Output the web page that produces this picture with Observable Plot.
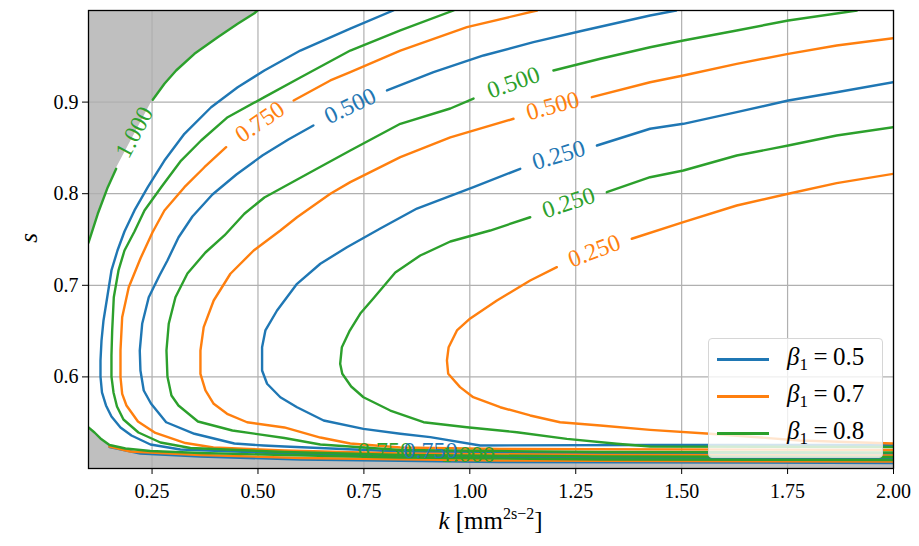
<!DOCTYPE html>
<html><head><meta charset="utf-8">
<script src="https://cdn.jsdelivr.net/npm/d3@7"></script>
<script src="https://cdn.jsdelivr.net/npm/@observablehq/plot@0.6"></script>
<style>
body{margin:0;background:#fff;}
#wrap{position:relative;width:919px;height:546px;font-family:"Liberation Serif",serif;color:#000;}
#wrap svg{position:absolute;left:0;top:0;}
#wrap svg text{font-family:"Liberation Serif",serif !important;}
#legend{position:absolute;left:708px;top:338px;width:175px;height:120px;box-sizing:border-box;border:1px solid #d6d6d6;border-radius:4px;background:rgba(255,255,255,0.8);}
.row{position:absolute;left:0;height:30px;display:flex;align-items:center;}
.sw{display:inline-block;width:52px;height:3px;margin-left:8px;margin-right:18px;}
.lab{font-size:25px;white-space:nowrap;}
.lab i{font-style:italic;}
.lab sub{font-size:17px;vertical-align:-5px;}
.lab .eq{margin:0 0.22em;}
#xlab{position:absolute;left:88px;width:805px;top:505px;text-align:center;font-size:25px;}
#xlab sup{font-size:16px;vertical-align:10px;}
#ylab{position:absolute;left:24px;top:224px;font-size:25px;font-style:italic;transform:rotate(-90deg);}
</style></head><body><div id="wrap"></div><script>
// ---- axes ----
const kDomain = [0.1, 2.0];
const sDomain = [0.5, 1.0];
const kTicks = [0.25, 0.5, 0.75, 1.0, 1.25, 1.5, 1.75, 2.0];
const sTicks = [0.6, 0.7, 0.8, 0.9];
const betas = [0.5, 0.7, 0.8];
const levels = [0.25, 0.5, 0.75, 1.0];

// ---- contour lines [k, s]; null = gap where the inline label sits ----
// beta = 0.5
const b25 = [[2.0,0.5257],[1.4255,0.5257],[1.0245,0.5251],[0.9066,0.5342],[0.836,0.5379],[0.749,0.5433],[0.655,0.5524],[0.5922,0.5669],[0.5528,0.5778],[0.5215,0.5925],[0.5097,0.607],[0.5097,0.6324],[0.5175,0.6507],[0.545,0.6725],[0.5922,0.7016],[0.6472,0.7235],[0.71,0.7416],[0.7887,0.762],[0.8752,0.7838],[1.0087,0.8071],[1.1189,0.8272],null,[1.3,0.8526],[1.4255,0.8709],[1.504,0.8763],[1.63,0.889],[1.7516,0.9017],[1.8658,0.9108],[2.0,0.9217]];
const b50 = [[2.0,0.5158],[1.308,0.5164],[0.836,0.5186],[0.5623,0.524],[0.5127,0.5251],[0.4443,0.5273],[0.35,0.5379],[0.2833,0.5505],[0.2474,0.571],[0.2304,0.5852],[0.2226,0.607],[0.221,0.6288],[0.2267,0.658],[0.2422,0.687],[0.2675,0.7107],[0.2863,0.7271],[0.3123,0.7522],[0.3453,0.7751],[0.3925,0.7991],[0.4491,0.821],[0.5104,0.8417],[0.5717,0.8592],[0.6307,0.8745],null,[0.8045,0.9127],[0.9144,0.9327],[1.0323,0.9509],[1.1502,0.9654],[1.2682,0.9782],[1.4255,0.9945],[1.4868,1.0]];
const b75 = [[2.0,0.5109],[1.308,0.5115],[0.836,0.5131],[0.5623,0.5164],[0.317,0.5207],[0.2462,0.5262],[0.2014,0.536],[0.1755,0.5448],[0.1542,0.5568],[0.1413,0.5688],[0.1318,0.583],[0.1283,0.6004],[0.1283,0.6179],[0.1307,0.6397],[0.1354,0.6616],[0.1441,0.6867],[0.1542,0.7162],[0.1684,0.738],[0.1849,0.7587],[0.2085,0.7817],[0.2399,0.8071],[0.2792,0.8362],[0.3264,0.8654],[0.3894,0.8944],[0.4521,0.9163],[0.5151,0.9345],[0.6,0.9563],[0.7179,0.9803],[0.8193,1.0]];
const b100 = [[0.1495,0.5235],[0.2226,0.5164],[0.3642,0.5131],[0.6,0.5098],[1.0717,0.5071],[2.0,0.506]];
// beta = 0.7
const o25 = [[2.0,0.5273],[1.779,0.5306],[1.567,0.5379],[1.4255,0.5422],[1.308,0.5469],[1.213,0.5505],[1.1425,0.5579],[1.0717,0.5669],[1.008,0.5778],[0.977,0.5888],[0.949,0.6034],[0.946,0.6179],[0.95,0.6324],[0.9696,0.6507],[1.001,0.6638],[1.064,0.6834],[1.1425,0.7052],[1.2054,0.7198],null,[1.3823,0.7508],[1.504,0.7689],[1.63,0.7871],[1.7516,0.7999],[1.8658,0.8115],[2.0,0.8217]];
const o50 = [[2.0,0.5202],[1.0717,0.5213],[0.836,0.5229],[0.7179,0.5273],[0.6472,0.5338],[0.5623,0.5448],[0.4743,0.5505],[0.4271,0.5597],[0.3955,0.5706],[0.376,0.5852],[0.3642,0.6034],[0.3642,0.6288],[0.3719,0.6543],[0.3955,0.6834],[0.4349,0.7126],[0.4899,0.738],[0.5528,0.7598],[0.5922,0.7743],[0.6708,0.7999],[0.7179,0.8126],[0.836,0.8399],[0.954,0.8614],[1.1031,0.8818],null,[1.288,0.9054],[1.4255,0.9217],[1.504,0.929],[1.63,0.9418],[1.7516,0.9527],[1.8658,0.9618],[2.0,0.9698]];
const o75 = [[2.0,0.5142],[1.308,0.5147],[0.836,0.5164],[0.5623,0.5197],[0.3948,0.5229],[0.3288,0.5278],[0.258,0.5388],[0.2167,0.5513],[0.1896,0.5688],[0.1795,0.5815],[0.1755,0.5997],[0.1755,0.6288],[0.1795,0.6652],[0.195,0.6979],[0.2226,0.7293],[0.2509,0.7576],[0.2792,0.7817],[0.3264,0.8071],[0.3736,0.8289],[0.4248,0.8508],null,[0.5842,0.9017],[0.6708,0.9236],[0.7179,0.9327],[0.836,0.9563],[0.9932,0.9818],[1.1583,1.0]];
const o100 = [[0.1495,0.524],[0.1991,0.5186],[0.3642,0.5147],[0.6,0.5115],[1.0717,0.5087],[2.0,0.5076]];
// beta = 0.8
const g25 = [[2.0,0.5235],[1.4255,0.524],[1.347,0.527],[1.229,0.5324],[1.111,0.5396],[0.993,0.5451],[0.8908,0.5505],[0.8123,0.5633],[0.749,0.5778],[0.72,0.5895],[0.699,0.6034],[0.694,0.6143],[0.698,0.6324],[0.7156,0.6496],[0.7415,0.6692],[0.7722,0.6856],[0.8241,0.714],[0.883,0.7325],[0.954,0.7478],[1.048,0.7598],[1.1425,0.7743],null,[1.3234,0.8016],[1.4255,0.818],[1.504,0.8253],[1.63,0.8417],[1.7516,0.8526],[1.8658,0.8635],[2.0,0.8726]];
const g50 = [[2.0,0.5175],[1.308,0.518],[0.836,0.5202],[0.6472,0.5262],[0.5623,0.5333],[0.4396,0.5415],[0.3583,0.5513],[0.3123,0.5688],[0.2958,0.5797],[0.2863,0.6004],[0.284,0.6288],[0.2894,0.658],[0.3052,0.687],[0.3335,0.7129],[0.376,0.7358],[0.4208,0.7544],[0.4679,0.7781],[0.5151,0.7959],[0.6314,0.8253],[0.7179,0.8472],[0.836,0.8763],[0.954,0.893],[1.0087,0.9039],null,[1.1974,0.9345],[1.308,0.9473],[1.4255,0.9599],[1.504,0.9672],[1.63,0.9782],[1.7516,0.9891],[1.9137,1.0]];
const g75 = [[2.0,0.5126],[1.308,0.5131],[0.836,0.5147],[0.5623,0.518],[0.3406,0.5224],[0.2698,0.5284],[0.2179,0.5393],[0.1825,0.5535],[0.1672,0.5677],[0.159,0.583],[0.1542,0.6004],[0.1542,0.6234],[0.1559,0.6507],[0.1597,0.687],[0.1708,0.7162],[0.1849,0.738],[0.2085,0.7587],[0.2321,0.7817],[0.2715,0.8071],[0.3186,0.8362],[0.3658,0.8581],[0.4285,0.8835],[0.5151,0.9054],[0.6,0.9269],[0.7179,0.9563],[0.836,0.9782],[0.9616,1.0]];
const g100upper = [[0.1,0.7467],[0.1219,0.7781],[0.1455,0.8071],[0.1653,0.8272],null,[0.2517,0.9025],[0.2792,0.92],[0.3068,0.9345],[0.35,0.9527],[0.405,0.9708],[0.4521,0.9855],[0.4915,0.997],[0.4986,1.0]];
const g100lower = [[0.1,0.5448],[0.1142,0.5393],[0.1283,0.5328],[0.1495,0.5257],[0.1873,0.5218],[0.2462,0.5191],[0.3642,0.5169],[0.5623,0.5147],[0.836,0.512],[1.308,0.5098],[2.0,0.5093]];

// grey (undefined) region along the bottom
const grayLow = [[0.1,0.5448],[0.1142,0.5393],[0.1283,0.5328],[0.1495,0.5251],[0.1873,0.5197],[0.2462,0.5164],[0.3642,0.5131],[0.6,0.5098],[1.0717,0.5071],[2.0,0.5055]];

// crowded labels inside the bottom band
const bandLabelK = [0.80, 0.907, 0.996];
const bandLabelS = [0.5175, 0.5175, 0.5131];
const bandLabelLevel = [0.75, 0.75, 1.0];
const bandLabelBeta = [0.8, 0.5, 0.8];

// ---- build ----
const W = 919, H = 546, ML = 88, MR = 26, MT = 10, MB = 78;
const FONT = "'Liberation Serif', serif";
const palette = {0.5: "#1f77b4", 0.7: "#ff7f0e", 0.8: "#2ca02c"};
const contours = [
  {beta: 0.5, level: 0.25, pts: b25}, {beta: 0.5, level: 0.5, pts: b50}, {beta: 0.5, level: 0.75, pts: b75}, {beta: 0.5, level: 1.0, pts: b100},
  {beta: 0.7, level: 0.25, pts: o25}, {beta: 0.7, level: 0.5, pts: o50}, {beta: 0.7, level: 0.75, pts: o75}, {beta: 0.7, level: 1.0, pts: o100},
  {beta: 0.8, level: 0.25, pts: g25}, {beta: 0.8, level: 0.5, pts: g50}, {beta: 0.8, level: 0.75, pts: g75},
  {beta: 0.8, level: 1.0, pts: g100upper}, {beta: 0.8, level: 1.0, pts: g100lower}
];
const xs = d3.scaleLinear(kDomain, [ML, W - MR]);
const ys = d3.scaleLinear(sDomain, [H - MB, MT]);
const rows = [], labels = [];
contours.forEach((c, i) => {
  c.pts.forEach(p => rows.push(p ? {id: i, beta: c.beta, k: p[0], s: p[1]} : {id: i, beta: c.beta, k: NaN, s: NaN}));
  const g = c.pts.indexOf(null);
  if (g > 0) {
    const a = c.pts[g - 1], b = c.pts[g + 1];
    const ang = Math.atan2(ys(b[1]) - ys(a[1]), xs(b[0]) - xs(a[0])) * 180 / Math.PI;
    labels.push({k: (a[0] + b[0]) / 2, s: (a[1] + b[1]) / 2, text: c.level.toFixed(3), color: palette[c.beta], angle: ang});
  }
});
bandLabelK.forEach((k, i) => labels.push({k, s: bandLabelS[i], text: bandLabelLevel[i].toFixed(3), color: palette[bandLabelBeta[i]], angle: 0}));
const toRows = arr => arr.filter(Boolean).map(p => ({k: p[0], s: p[1]}));

const marks = [
  Plot.areaY(toRows(g100upper), {x: "k", y1: "s", y2: () => sDomain[1], fill: "#bfbfbf"}),
  Plot.areaY(toRows(grayLow), {x: "k", y1: () => sDomain[0], y2: "s", fill: "#bfbfbf"}),
  Plot.ruleX(kTicks, {stroke: "#b0b0b0", strokeWidth: 1.2}),
  Plot.ruleY(sTicks, {stroke: "#b0b0b0", strokeWidth: 1.2})
];
betas.forEach(b => marks.push(Plot.line(rows.filter(r => r.beta === b), {x: "k", y: "s", z: "id", stroke: palette[b], strokeWidth: 2.4, clip: true})));
marks.push(Plot.text(labels, {x: "k", y: "s", text: "text", fill: "color", rotate: "angle", fontSize: 24, fontFamily: FONT, dy: -2}));
marks.push(Plot.frame({stroke: "black", strokeWidth: 1.3}));

const plot = Plot.plot({
  width: W, height: H, marginLeft: ML, marginRight: MR, marginTop: MT, marginBottom: MB,
  x: {domain: kDomain, ticks: kTicks, tickFormat: d3.format(".2f"), label: null, tickSize: 6, tickPadding: 9},
  y: {domain: sDomain, ticks: sTicks, tickFormat: d3.format(".1f"), label: null, tickSize: 6, tickPadding: 4},
  color: {type: "identity"},
  style: {fontFamily: FONT, fontSize: "20px", color: "black", background: "white", overflow: "visible"},
  marks
});
const wrap = document.getElementById("wrap");
wrap.appendChild(plot);

// legend
const legend = document.createElement("div");
legend.id = "legend";
betas.forEach((b, i) => {
  const row = document.createElement("div");
  row.className = "row";
  row.style.top = (5 + i * 37) + "px";
  row.innerHTML = `<span class="sw" style="background:${palette[b]}"></span><span class="lab"><i>β</i><sub>1</sub><span class="eq">=</span>${b}</span>`;
  legend.appendChild(row);
});
wrap.appendChild(legend);
const xl = document.createElement("div"); xl.id = "xlab";
xl.innerHTML = `<i>k</i> [mm<sup>2s−2</sup>]`;
wrap.appendChild(xl);
const yl = document.createElement("div"); yl.id = "ylab"; yl.textContent = "s";
wrap.appendChild(yl);
</script></body></html>
